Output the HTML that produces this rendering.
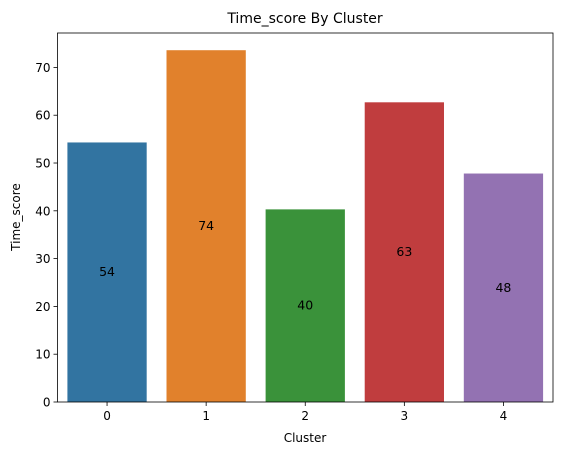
<!DOCTYPE html>
<html><head><meta charset="utf-8"><style>
body{margin:0;background:#fff}
svg text{font-family:"DejaVu Sans","Liberation Sans",sans-serif;}
</style></head><body>
<svg id="chart" width="563" height="455" xmlns="http://www.w3.org/2000/svg">
<rect width="563" height="455" fill="#fff"/>
<g id="plot"></g>
<text x="305" y="23" text-anchor="middle" font-size="14" fill="#000">Time_score By Cluster</text>
<text x="305" y="442" text-anchor="middle" font-size="12" fill="#000">Cluster</text>
<text transform="translate(20,217) rotate(-90)" text-anchor="middle" font-size="12" fill="#000">Time_score</text>
</svg>
<script>
const categories=["0","1","2","3","4"];
const values=[54.3,73.6,40.3,62.7,47.8];
const labels=["54","74","40","63","48"];
const colors=["#3274a1","#e1812c","#3a923a","#c03d3e","#9372b2"];
const yTicks=[0,10,20,30,40,50,60,70];
const L=57.5,R=553,T=33,B=402,yMax=77.2;
const NS="http://www.w3.org/2000/svg";
const g=document.getElementById('plot');
const y=v=>B-(v/yMax)*(B-T);
const band=(R-L)/categories.length;
const x=i=>L+band*i+band/2;
function mk(t,a){const e=document.createElementNS(NS,t);for(const k in a)e.setAttribute(k,a[k]);g.appendChild(e);return e;}
values.forEach((v,i)=>{
 const r=mk('rect',{x:x(i)-band*0.4,y:y(v),width:band*0.8,height:B-y(v),fill:colors[i]});
 
 
 const t=mk('text',{x:x(i),y:y(v/2)+4,'text-anchor':'middle','font-size':'12.5',fill:'#000'});
 t.textContent=labels[i];
 
 
 mk('line',{x1:x(i),x2:x(i),y1:B,y2:B+4,stroke:'#000','stroke-width':0.8});
 const xt=mk('text',{x:x(i),y:B+18,'text-anchor':'middle','font-size':'12',fill:'#000'});
 xt.textContent=categories[i];
 
 
});
yTicks.forEach(v=>{
 mk('line',{x1:L-4,x2:L,y1:y(v),y2:y(v),stroke:'#000','stroke-width':0.8});
 const t=mk('text',{x:L-7,y:y(v)+4.5,'text-anchor':'end','font-size':'12',fill:'#000'});
 t.textContent=v;
 
 
});
const f=mk('rect',{x:L,y:T,width:R-L,height:B-T,fill:'none',stroke:'#000','stroke-width':0.8});


</script>
</body></html>
